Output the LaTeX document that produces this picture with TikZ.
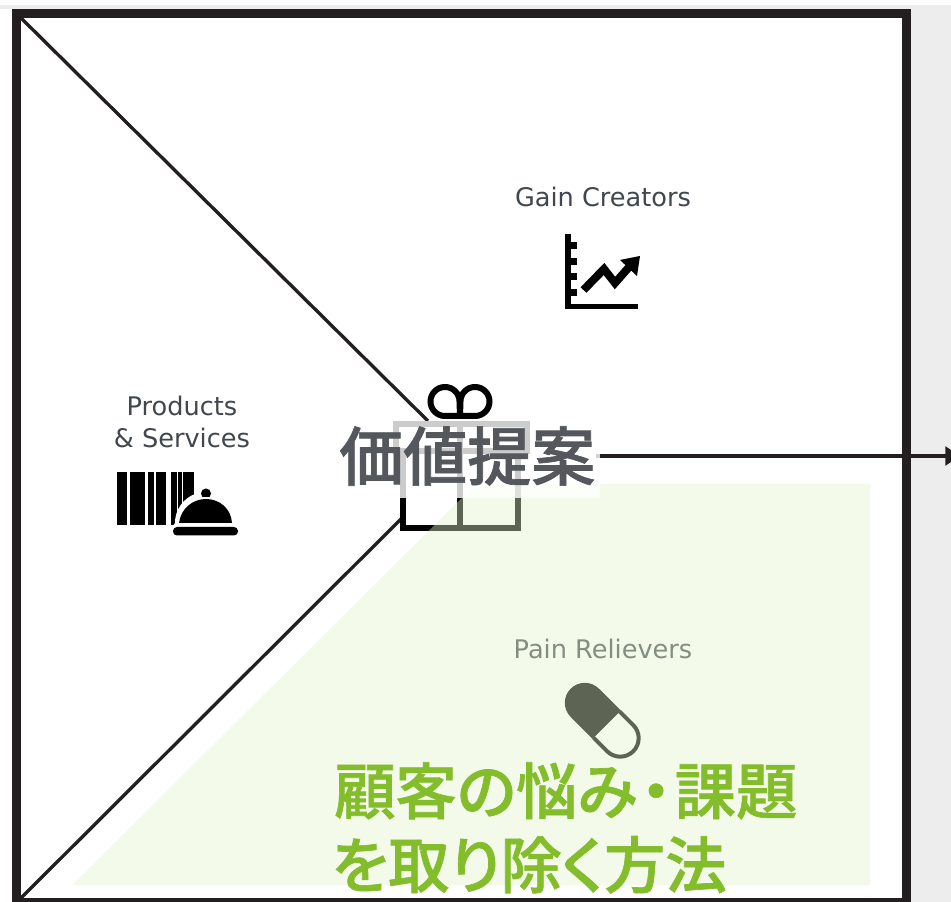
\documentclass[tikz,border=0pt]{standalone}
\usepackage{fontspec}
\setmainfont{DejaVu Sans}
\newfontfamily\cjk[RawFeature=+palt,FakeBold=1.1]{Noto Sans CJK JP Medium}
\newfontfamily\cjkplain[FakeBold=1.1]{Noto Sans CJK JP Medium}
\usetikzlibrary{arrows.meta}
\definecolor{framecol}{HTML}{231F20}
\definecolor{sidegray}{HTML}{EDEDED}
\definecolor{overlaygreen}{HTML}{E3F4CD}
\definecolor{titlegray}{HTML}{54585C}
\definecolor{leafgreen}{HTML}{84BD2C}
\definecolor{labelgray}{HTML}{41474E}
\tikzset{
  framebox/.style={draw=framecol,line width=6.75pt},
  divider/.style={draw=framecol,line width=2.5pt},
  iconline/.style={draw=black,line width=4.5pt},
  blocklabel/.style={font=\fontsize{19.2}{23.5}\selectfont,text=labelgray,inner sep=0pt,align=center},
  bigtitle/.style={font=\cjkplain\fontsize{48}{48}\selectfont,text=titlegray,inner sep=0pt},
  greentitle/.style={font=\cjk\fontsize{46}{55.5}\selectfont,text=leafgreen,inner sep=0pt,align=left},
}
\begin{document}
\begin{tikzpicture}[x=0.75pt,y=-0.75pt]
\useasboundingbox (0,0) rectangle (951,902);
\clip (0,0) rectangle (951,902);
\fill[white] (0,0) rectangle (951,902);
\fill[sidegray] (0,5) rectangle (951,902);
\fill[white] (0,9) rectangle (911,902);
\fill[white] (16,13) rectangle (907,902);
\draw[framebox] (16.5,13.5) rectangle (906.5,902.5);
\coordinate (tl) at (20,17);
\coordinate (bl) at (20,899);
\coordinate (tj) at (428,421);
\coordinate (bj) at (402,518);
\coordinate (arrowstart) at (596,456);
\coordinate (arrowend) at (960,456);
\draw[divider] (tl) -- (tj);
\draw[divider] (bl) -- (bj);
\draw[divider,-{Triangle[length=11pt,width=14pt]}] (arrowstart) -- (arrowend);
% labels
\node[blocklabel] (gain) at (603,197) {Gain Creators};
\node[blocklabel] (prod) at (182,422) {Products\\\& Services};
\node[blocklabel] (pain) at (603,649) {Pain Relievers};
% chart icon
\draw[draw=black,line width=4pt] (568,234) -- (568,306.5) -- (638,306.5);
\foreach \yy in {246,262,277,293}
  \fill[black] (567,\yy-3.5) rectangle (577,\yy+3.5);
\draw[draw=black,line width=6pt,line join=miter] (583.5,290) -- (604,269) -- (615,283) -- (630,266);
\fill[black] (640,256) -- (620,260) -- (637,276) -- cycle;
% barcode + cloche icon
\foreach \a/\b in {117/127,130/145,148/154,156/166,171/177,178/182,183/194}
  \fill[black] (\a,472) rectangle (\b,525);
\fill[white] (172,527) -- (175,523) arc[start angle=180,end angle=360,radius=31] -- (240,527) -- cycle;
\fill[white] (206,493) circle[radius=7];
\fill[black] (206,493.5) circle[radius=5];
\fill[white] (190,497.5) rectangle (222,499);
\fill[black] (179,523) .. controls (181,508) and (193,499) .. (206,499) .. controls (219,499) and (231,508) .. (232,523) -- cycle;
\fill[black,rounded corners=3pt] (173,527) rectangle (238,535.5);
% pill icon
\begin{scope}[shift={(602.5,720.5)},rotate=135]
  \fill[black] (-6,-20) -- (25,-20) arc[start angle=-90,end angle=90,radius=20] -- (-6,20) -- cycle;
  \draw[black,line width=3pt] (-6,-18.5) -- (-25,-18.5) arc[start angle=270,end angle=90,radius=18.5] -- (-6,18.5);
\end{scope}
% gift icon
\draw[iconline] (445,416) arc[start angle=90,end angle=360,radius=14.5] -- (460,416) -- cycle;
\draw[iconline] (475,416) arc[start angle=90,end angle=-180,radius=14.5] -- (460,416) -- cycle;
\draw[iconline] (396,424) rectangle (527,451);
\draw[iconline] (403,451) rectangle (518,528.5);
\draw[iconline] (460,424) -- (460,528.5);
% pale green band
\fill[overlaygreen,opacity=0.41] (72,885) -- (476,484) -- (870,484) -- (870,885) -- cycle;
% white veil behind the title
\fill[white,opacity=0.8] (340,421) rectangle (600,498);
% titles
\node[bigtitle,anchor=west] (vp) at (339,456) {価値提案};
\node[greentitle,anchor=north west] (gt) at (334,762) {顧客の悩み\kern2.5pt・\kern2.5pt課題\\\kern-2pt を取り除く方法};
\end{tikzpicture}
\end{document}
